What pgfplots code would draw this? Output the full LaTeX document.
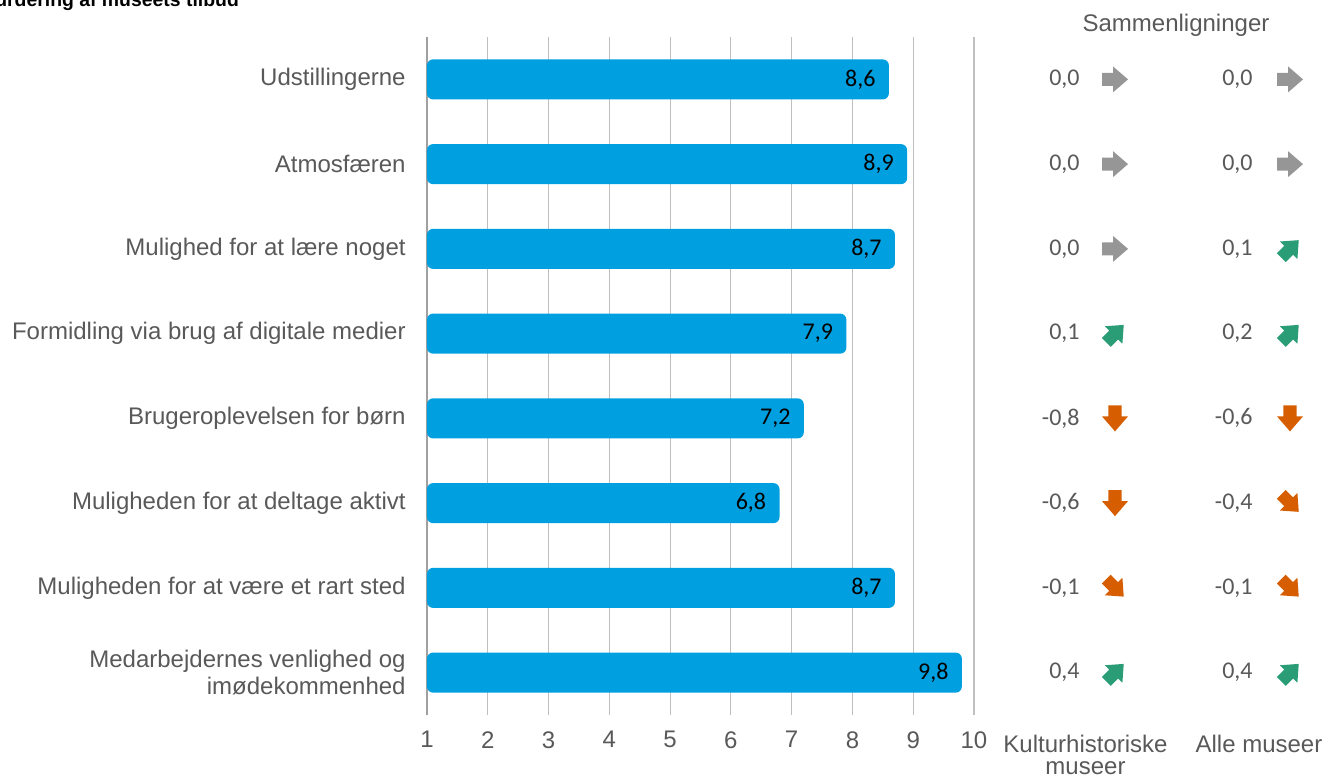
\documentclass[border=0pt]{standalone}
\usepackage{pgfplots}
\usepackage{pgfplotstable}
\pgfplotsset{compat=1.18}
\usepackage{fontspec}
\setmainfont{Liberation Sans}
\newfontfamily\calibri{Carlito}
\definecolor{barblue}{HTML}{009FDF}
\definecolor{txtgray}{HTML}{595959}
\definecolor{gridgray}{HTML}{BFBFBF}
\definecolor{axgray}{HTML}{A0A0A0}
\definecolor{arrgray}{HTML}{969696}
\definecolor{arrgreen}{HTML}{2A9D76}
\definecolor{arrorange}{HTML}{D75E00}

\pgfdeclareplotmark{blockarrow}{%
 \pgfpathmoveto{\pgfqpoint{-6.5pt}{-3.3pt}}%
 \pgfpathlineto{\pgfqpoint{-1pt}{-3.3pt}}%
 \pgfpathlineto{\pgfqpoint{-1pt}{-6.5pt}}%
 \pgfpathlineto{\pgfqpoint{6.5pt}{0pt}}%
 \pgfpathlineto{\pgfqpoint{-1pt}{6.5pt}}%
 \pgfpathlineto{\pgfqpoint{-1pt}{3.3pt}}%
 \pgfpathlineto{\pgfqpoint{-6.5pt}{3.3pt}}%
 \pgfpathclose
 \pgfusepathqfill
}

\pgfplotstableread{
y val lab
8 8.6 8,6
7 8.9 8,9
6 8.7 8,7
5 7.9 7,9
4 7.2 7,2
3 6.8 6,8
2 8.7 8,7
1 9.8 9,8
}\maindata

\pgfplotstableread{
x y lab
1080 8 0,0
1253 8 0,0
1080 7 0,0
1253 7 0,0
1080 6 0,0
1253 6 0,1
1080 5 0,1
1253 5 0,2
1080 4 -0,8
1253 4 -0,6
1080 3 -0,6
1253 3 -0,4
1080 2 -0,1
1253 2 -0,1
1080 1 0,4
1253 1 0,4
}\compdata

\begin{document}
\begin{tikzpicture}
\begin{axis}[
  at={(213.5pt,31.5pt)}, anchor=south west,
  scale only axis, width=273.5pt, height=339pt,
  xbar, bar width=20pt,
  xmin=1, xmax=10, ymin=0.5, ymax=8.5,
  xtick={1,...,10},
  ytick={1,...,8},
  yticklabels={{Medarbejdernes venlighed og\\imødekommenhed},
    Muligheden for at være et rart sted,
    Muligheden for at deltage aktivt,
    Brugeroplevelsen for børn,
    Formidling via brug af digitale medier,
    Mulighed for at lære noget,
    Atmosfæren,
    Udstillingerne},
  axis line style={draw=none},
  major tick length=0pt,
  xmajorgrids,
  grid style={gridgray, line width=0.6pt},
  extra x ticks={1}, extra x tick labels={},
  extra x tick style={grid style={axgray, line width=1.3pt}},
  tick label style={text=txtgray, font=\fontsize{12}{13.5}\selectfont},
  yticklabel style={align=right, inner sep=0pt, xshift=-10.5pt},
  xticklabel style={inner sep=0pt, anchor=north, yshift=-8pt},
  /pgf/number format/assume math mode=true,
]
\addplot[fill=barblue, draw=none, rounded corners=3pt,
  nodes near coords, point meta=explicit symbolic,
  every node near coord/.append style={anchor=east, inner sep=0pt, xshift=-6.5pt,
    text=black, font=\calibri\fontsize{12}{14}\selectfont}]
  table[x=val, y=y, meta=lab] {\maindata};
\end{axis}

\begin{axis}[
  at={(487pt,31.5pt)}, anchor=south west,
  scale only axis, width=175pt, height=339pt,
  xmin=974, xmax=1324, ymin=0.5, ymax=8.5,
  hide axis, clip=false,
]
\addplot[draw=none, mark=none, nodes near coords, point meta=explicit symbolic,
  every node near coord/.append style={anchor=east, inner sep=0pt,
    text=txtgray, font=\calibri\fontsize{12}{14}\selectfont}]
  table[x=x, y=y, meta=lab] {\compdata};
\addplot[only marks, mark=blockarrow, mark options={fill=arrgray, draw=none}]
  coordinates {(1115,8)(1290,8)(1115,7)(1290,7)(1115,6)};
\addplot[only marks, mark=blockarrow, mark options={fill=arrgreen, draw=none, rotate=45, scale=0.95}]
  coordinates {(1290,6)(1115,5)(1290,5)(1115,1)(1290,1)};
\addplot[only marks, mark=blockarrow, mark options={fill=arrorange, draw=none, rotate=-90}]
  coordinates {(1115,4)(1290,4)(1115,3)};
\addplot[only marks, mark=blockarrow, mark options={fill=arrorange, draw=none, rotate=-45, scale=0.95}]
  coordinates {(1290,3)(1115,2)(1290,2)};
\end{axis}

\node[anchor=base west, font=\bfseries\fontsize{9.7}{11}\selectfont, text=black] at (-12pt,385.75pt) {Vurdering af museets tilbud};
\node[anchor=base, font=\fontsize{12}{14}\selectfont, text=txtgray] at (588pt,373pt) {Sammenligninger};
\node[anchor=base, font=\fontsize{12}{14}\selectfont, text=txtgray] at (542.75pt,12.75pt) {Kulturhistoriske};
\node[anchor=base, font=\fontsize{12}{14}\selectfont, text=txtgray] at (542.75pt,1.75pt) {museer};
\node[anchor=base, font=\fontsize{12}{14}\selectfont, text=txtgray] at (629.5pt,12.75pt) {Alle museer};
\pgfresetboundingbox
\useasboundingbox (0,0) rectangle (662pt,389pt);
\end{tikzpicture}
\end{document}
